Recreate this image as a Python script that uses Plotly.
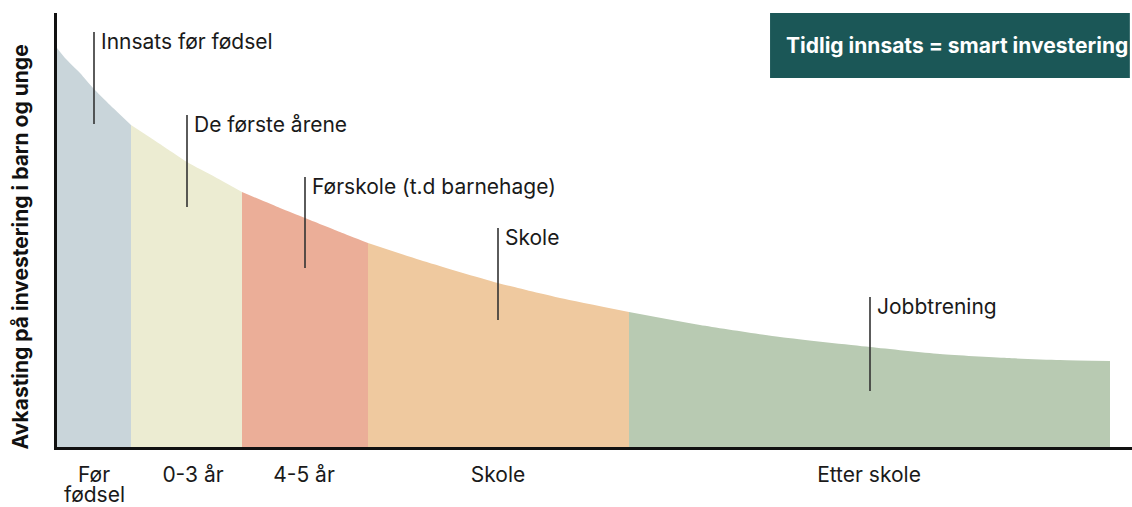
import plotly.graph_objects as go

# ---- data ----
# position along the life course (arbitrary units) and return on investment (arbitrary units)
curve_x = [0, 8, 23, 36, 53, 74, 103, 130, 158, 185, 223, 248, 283, 311, 363, 441, 503, 572, 643, 723, 813, 883, 950, 1003, 1053]
curve_y = [399, 389, 374, 359, 342, 322, 303, 285, 270, 255, 239, 229, 215, 204, 187, 164, 149, 135, 122, 110, 100, 93, 89, 87, 86]

stage_bounds = [0, 74, 185, 311, 572, 1053]
stage_labels = ["Før", "0-3 år", "4-5 år", "Skole", "Etter skole"]
stage_label_pos = [37, 136, 247, 441, 812]
stage_label_second_line = ["fødsel", "", "", "", ""]
stage_colors = ["#C9D5DA", "#ECECD2", "#EBAE98", "#EFC99F", "#B8CAB2"]

callout_texts = ["Innsats før fødsel", "De første årene", "Førskole (t.d barnehage)", "Skole", "Jobbtrening"]
callout_x = [37, 130, 248, 441, 813]
callout_top = [415, 332, 270, 219, 150]
callout_bottom = [323, 240, 179, 127, 56]

y_title = "Avkasting på investering i barn og unge"
box_text = "Tidlig innsats = smart investering"

FONT = "Inter, Roboto, sans-serif"
FS = 21

fig = go.Figure()

for i in range(len(stage_labels)):
    x0, x1 = stage_bounds[i], stage_bounds[i + 1]
    xs = [x for x in curve_x if x0 <= x <= x1]
    ys = [y for x, y in zip(curve_x, curve_y) if x0 <= x <= x1]
    fig.add_trace(go.Scatter(
        x=xs, y=ys, mode="lines", line=dict(width=0, shape="spline", smoothing=0.6),
        fill="tozeroy", fillcolor=stage_colors[i], hoverinfo="skip", showlegend=False,
    ))

shapes = []
annotations = []
for t, x, yt, yb in zip(callout_texts, callout_x, callout_top, callout_bottom):
    shapes.append(dict(type="line", xref="x", yref="y", x0=x, x1=x, y0=yb, y1=yt,
                       line=dict(color="#333333", width=1.6)))
    annotations.append(dict(xref="x", yref="y", x=x + 5, y=yt - 9, text=t, showarrow=False,
                            xanchor="left", yanchor="middle",
                            font=dict(family=FONT, size=FS, color="#1a1a1a")))

# second line of stage labels
for x, t in zip(stage_label_pos, stage_label_second_line):
    if t:
        annotations.append(dict(xref="x", yref="paper", x=x, y=-0.11, text=t, showarrow=False,
                                xanchor="center", yanchor="middle",
                                font=dict(family=FONT, size=FS, color="#1a1a1a")))

# highlight box
shapes.append(dict(type="rect", xref="paper", yref="paper", x0=0.6633, x1=0.998, y0=0.85, y1=1.0,
                   fillcolor="#1B5757", line=dict(width=0), layer="above"))
annotations.append(dict(xref="paper", yref="paper", x=0.837, y=0.926, text="<b>" + box_text + "</b>",
                        showarrow=False, xanchor="center", yanchor="middle",
                        font=dict(family=FONT, size=FS, color="white")))

# y-axis title
annotations.append(dict(xref="paper", yref="paper", x=-0.0344, y=0.46, text="<b>" + y_title + "</b>",
                        textangle=-90, showarrow=False, xanchor="center", yanchor="middle",
                        font=dict(family=FONT, size=FS, color="#111")))

fig.update_layout(
    width=1132, height=507,
    margin=dict(l=57, r=0, t=13, b=60),
    paper_bgcolor="white", plot_bgcolor="white",
    shapes=shapes, annotations=annotations,
    xaxis=dict(range=[0, 1075], showgrid=False, zeroline=False, showline=True,
               linecolor="#111", linewidth=3, tickmode="array",
               tickvals=stage_label_pos, ticktext=stage_labels, ticks="",
               tickfont=dict(family=FONT, size=FS, color="#1a1a1a"), ticklabelstandoff=7),
    yaxis=dict(range=[0, 434], showgrid=False, zeroline=False, showline=True,
               linecolor="#111", linewidth=3, showticklabels=False, ticks=""),
)

fig.write_html("out.html", config={"displayModeBar": False},
               post_script="document.body.style.margin='0px';")
